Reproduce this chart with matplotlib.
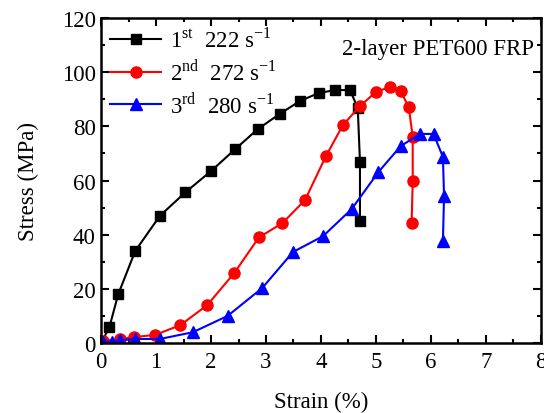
import matplotlib.pyplot as plt
from matplotlib.ticker import MultipleLocator

# 1st test, 222 s^-1
strain1 = [0.0, 0.15, 0.31, 0.62, 1.07, 1.53, 2.0, 2.44, 2.85, 3.25, 3.62, 3.96, 4.25, 4.53, 4.67, 4.71, 4.71]
stress1 = [0.0, 5.9, 18.0, 34.0, 47.0, 55.6, 63.5, 71.6, 79.0, 84.6, 89.4, 92.3, 93.4, 93.4, 86.7, 66.8, 45.0]

# 2nd test, 272 s^-1
strain2 = [0.03, 0.35, 0.6, 0.98, 1.44, 1.93, 2.42, 2.87, 3.3, 3.71, 4.09, 4.4, 4.71, 5.0, 5.25, 5.45, 5.6, 5.67, 5.67, 5.65]
stress2 = [0.7, 1.5, 2.2, 3.0, 6.6, 14.0, 25.8, 39.0, 44.3, 52.8, 69.0, 80.5, 87.5, 92.7, 94.5, 93.0, 87.0, 76.0, 59.8, 44.3]

# 3rd test, 280 s^-1
strain3 = [0.03, 0.2, 0.35, 0.62, 1.07, 1.67, 2.3, 2.93, 3.49, 4.04, 4.56, 5.04, 5.45, 5.8, 6.05, 6.22, 6.24, 6.22]
stress3 = [0.5, 0.5, 1.0, 1.5, 1.5, 4.0, 10.0, 20.3, 33.6, 39.5, 49.5, 63.0, 72.7, 77.2, 77.2, 68.7, 54.3, 37.7]

labels = ['1$^{\\mathregular{st}}$  222 s$^{\\mathregular{-1}}$',
          '2$^{\\mathregular{nd}}$  272 s$^{\\mathregular{-1}}$',
          '3$^{\\mathregular{rd}}$  280 s$^{\\mathregular{-1}}$']

plt.rcParams['font.family'] = 'Liberation Serif'
plt.rcParams['mathtext.fontset'] = 'custom'
plt.rcParams['mathtext.rm'] = 'Liberation Serif'

fs = 16.5
fig = plt.figure(figsize=(5.44, 4.14), dpi=100)
ax = fig.add_axes([0.186, 0.169, 0.808, 0.785])

ax.plot(strain1, stress1, color='black', marker='s', markersize=6.5, linewidth=1.5, label=labels[0])
ax.plot(strain2, stress2, color='red', marker='o', markersize=8, linewidth=1.5, label=labels[1])
ax.plot(strain3, stress3, color='blue', marker='^', markersize=8.5, linewidth=1.5, label=labels[2])

ax.set_xlim(0, 8)
ax.set_ylim(0, 120)
ax.xaxis.set_major_locator(MultipleLocator(1))
ax.xaxis.set_minor_locator(MultipleLocator(0.5))
ax.yaxis.set_major_locator(MultipleLocator(20))
ax.yaxis.set_minor_locator(MultipleLocator(10))
ax.tick_params(which='both', direction='in', top=True, right=True, labelsize=fs, width=1.5)
ax.tick_params(which='major', length=6)
ax.tick_params(which='minor', length=3)
ax.tick_params(axis='x', pad=6)
ax.tick_params(axis='y', pad=4)
for s in ax.spines.values():
    s.set_linewidth(1.8)

ax.set_xlabel('Strain (%)', fontsize=fs, labelpad=13)
ax.set_ylabel('Stress (MPa)', fontsize=fs, labelpad=16)

ax.text(0.985, 0.905, '2-layer PET600 FRP', transform=ax.transAxes, ha='right', va='center', fontsize=fs)
ax.legend(loc='upper left', frameon=False, fontsize=fs, handlelength=2.2,
          borderaxespad=0.1, borderpad=0.3, labelspacing=0.3, handletextpad=0.4)

fig.savefig('out.png', dpi=100)
